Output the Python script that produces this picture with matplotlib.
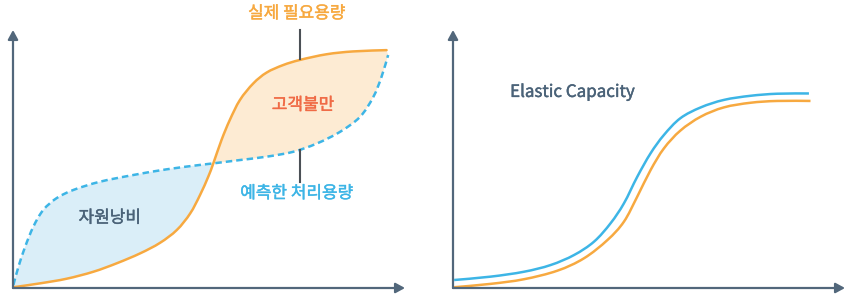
import numpy as np
import matplotlib
matplotlib.use("Agg")
import matplotlib.pyplot as plt
import matplotlib.patheffects as pe
from matplotlib.path import Path
from matplotlib.patches import PathPatch

plt.rcParams['font.family'] = ['Noto Sans CJK KR', 'DejaVu Sans']

# ---- Left panel data (0-100 units) ----
need_x = [0.1, 6.9, 13.7, 20.5, 26.5, 32.4, 37.5, 41.8, 45.2, 47.7, 49.8, 51.1,
          53.2, 55.3, 57.9, 61.3, 64.7, 68.9, 73.2, 80.0, 86.8, 95.3]
need_y = [0.3, 1.8, 3.6, 6.3, 9.6, 13.4, 17.5, 22.5, 28.9, 36.0, 43.1, 48.3,
          57.4, 65.1, 72.9, 79.3, 83.5, 86.4, 88.4, 90.6, 91.7, 92.2]
pred_x = [0.1, 1.4, 3.1, 5.2, 7.7, 11.1, 15.4, 22.2, 30.7, 39.2, 47.7, 51.1,
          57.9, 64.7, 71.5, 77.5, 83.4, 88.5, 91.9, 94.0, 95.7]
pred_y = [1.2, 8.3, 16.0, 23.8, 30.2, 34.8, 38.0, 41.2, 43.8, 46.0, 47.7, 48.3,
          49.6, 50.9, 52.8, 56.0, 60.5, 66.3, 74.0, 81.8, 90.3]
cross_need = 11  # index of crossing in need
cross_pred = 11  # index of crossing in pred

# ---- Right panel data ----
el_cap_x = [0.3, 9.6, 18.1, 24.9, 30.9, 36.0, 40.2, 43.6, 47.0, 50.4, 53.8,
            58.0, 63.2, 69.1, 75.9, 82.7, 90.8]
el_cap_y = [3.1, 4.4, 6.3, 8.9, 12.8, 18.0, 25.1, 32.8, 43.1, 52.2, 59.3,
            65.8, 70.0, 72.9, 74.5, 75.3, 75.4]
el_need_x = [0.3, 9.6, 18.1, 26.6, 33.4, 39.4, 43.6, 47.0, 50.4, 53.8, 58.0,
             63.2, 69.1, 75.9, 82.7, 91.2]
el_need_y = [0.3, 1.6, 3.4, 6.7, 11.5, 18.6, 25.7, 35.4, 45.7, 54.1, 61.0,
             66.4, 70.0, 71.8, 72.5, 72.5]

label_need = "실제 필요용량"
label_pred = "예측한 처리용량"
label_complaint = "고객불만"
label_waste = "자원낭비"
label_elastic = "Elastic Capacity"

ORANGE = "#f7a940"
BLUE = "#3db5e6"
FILL_BLUE = "#daeef8"
FILL_ORANGE = "#fdebd3"
AXIS = "#52677b"
LEADER = "#4b5056"
RED = "#f06a45"
SLATE = "#4a6278"
FS = 12.2


def smooth_segments(xs, ys):
    """Catmull-Rom through the points, expressed as cubic Bezier path pieces."""
    P = np.column_stack([xs, ys]).astype(float)
    n = len(P)
    verts, codes = [], []
    for i in range(n - 1):
        p0 = P[i - 1] if i > 0 else P[i]
        p1, p2 = P[i], P[i + 1]
        p3 = P[i + 2] if i + 2 < n else P[i + 1]
        c1 = p1 + (p2 - p0) / 6.0
        c2 = p2 - (p3 - p1) / 6.0
        verts += [tuple(c1), tuple(c2), tuple(p2)]
        codes += [Path.CURVE4] * 3
    return verts, codes


def curve_path(xs, ys):
    v, c = smooth_segments(xs, ys)
    return Path([(xs[0], ys[0])] + v, [Path.MOVETO] + c)


def region_path(ax_, ay_, bx_, by_):
    v1, c1 = smooth_segments(ax_, ay_)
    v2, c2 = smooth_segments(bx_[::-1], by_[::-1])
    verts = [(ax_[0], ay_[0])] + v1 + [(bx_[-1], by_[-1])] + v2 + [(0, 0)]
    codes = [Path.MOVETO] + c1 + [Path.LINETO] + c2 + [Path.CLOSEPOLY]
    return Path(verts, codes)


W, H = 848, 296
fig = plt.figure(figsize=(W / 100, H / 100), dpi=100)
axL = fig.add_axes([13 / W, 8 / H, 392 / W, 258 / H])
axR = fig.add_axes([453 / W, 8 / H, 392 / W, 258 / H])

for ax in (axL, axR):
    ax.set_xlim(0, 100)
    ax.set_ylim(0, 100)
    ax.axis('off')
    arr = dict(arrowstyle='-|>,head_length=0.55,head_width=0.3', lw=1.6,
               color=AXIS, shrinkA=0, shrinkB=0)
    ax.annotate('', xy=(100, 0), xytext=(0, 0), arrowprops=arr,
                annotation_clip=False, zorder=6)
    ax.annotate('', xy=(0, 100), xytext=(0, 0), arrowprops=arr,
                annotation_clip=False, zorder=6)

# Left fills
k, m = cross_need, cross_pred
axL.add_patch(PathPatch(region_path(need_x[:k + 1], need_y[:k + 1],
                                    pred_x[:m + 1], pred_y[:m + 1]),
                        facecolor=FILL_BLUE, lw=0, zorder=1))
axL.add_patch(PathPatch(region_path(need_x[k:], need_y[k:],
                                    pred_x[m:], pred_y[m:]),
                        facecolor=FILL_ORANGE, lw=0, zorder=1))
axL.add_patch(PathPatch(curve_path(pred_x, pred_y), facecolor='none',
                        edgecolor=BLUE, lw=1.8, ls=(0, (2.6, 1.6)),
                        zorder=3, clip_on=False))
axL.add_patch(PathPatch(curve_path(need_x, need_y), facecolor='none',
                        edgecolor=ORANGE, lw=1.8, zorder=4, clip_on=False,
                        capstyle='round'))

# leader lines
axL.plot([73.2, 73.2], [100, 88.8], color=LEADER, lw=1.5, zorder=5, clip_on=False)
axL.plot([73.2, 73.2], [53.3, 41.1], color=LEADER, lw=1.5, zorder=5, clip_on=False)


def label(ax, x, y, s, color, **kw):
    t = ax.text(x, y, s, color=color, fontsize=FS, ha='center', va='center', **kw)
    t.set_path_effects([pe.Stroke(linewidth=0.3, foreground=color), pe.Normal()])
    return t


label(axL, 72.4, 106.5, label_need, ORANGE, clip_on=False)
label(axL, 72.4, 36.8, label_pred, BLUE)
label(axL, 74.0, 71.0, label_complaint, RED)
label(axL, 24.7, 27.3, label_waste, SLATE)

# Right panel
axR.add_patch(PathPatch(curve_path(el_need_x, el_need_y), facecolor='none',
                        edgecolor=ORANGE, lw=1.8, clip_on=False))
axR.add_patch(PathPatch(curve_path(el_cap_x, el_cap_y), facecolor='none',
                        edgecolor=BLUE, lw=1.8, clip_on=False))
label(axR, 30.4, 76.0, label_elastic, SLATE)

fig.savefig("out.png", dpi=100)
